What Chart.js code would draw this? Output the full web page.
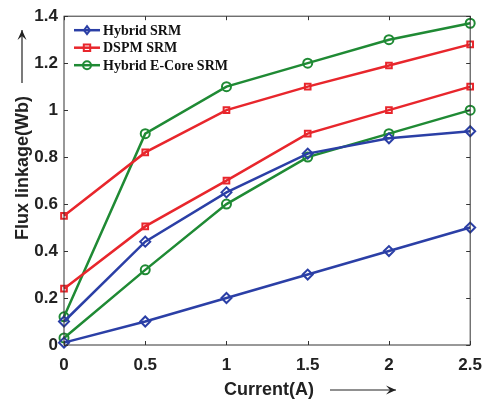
<!DOCTYPE html>
<html>
<head>
<meta charset="utf-8">
<script src="https://cdn.jsdelivr.net/npm/chart.js@4/dist/chart.umd.min.js"></script>
<style>
  html, body { margin: 0; padding: 0; background: #fff; }
  #wrap { width: 492px; height: 400px; position: relative; }
</style>
</head>
<body>
<div id="wrap"><canvas id="fluxChart"></canvas></div>
<script>
// data
const currents = [0, 0.5, 1, 1.5, 2, 2.5];
const hybridSrmA = [0.10, 0.44, 0.65, 0.815, 0.88, 0.91];
const hybridSrmB = [0.01, 0.10, 0.20, 0.30, 0.40, 0.50];
const dspmSrmA = [0.55, 0.82, 1.00, 1.10, 1.19, 1.28];
const dspmSrmB = [0.24, 0.505, 0.70, 0.90, 1.00, 1.10];
const eCoreSrmA = [0.12, 0.90, 1.10, 1.20, 1.30, 1.37];
const eCoreSrmB = [0.03, 0.32, 0.60, 0.80, 0.90, 1.00];
const xTicks = [0, 0.5, 1, 1.5, 2, 2.5];
const yTicks = [0, 0.2, 0.4, 0.6, 0.8, 1, 1.2, 1.4];

const BLUE = '#2b3fa6';
const RED = '#e8262c';
const GREEN = '#1f8a34';
const SANS = '"Liberation Sans", Arial, sans-serif';

const legendItems = [
    { text: 'Hybrid SRM', color: BLUE, style: 'rectRot' },
    { text: 'DSPM SRM', color: RED, style: 'rect' },
    { text: 'Hybrid E-Core SRM', color: GREEN, style: 'circle' }
];

function series(values, color, style, radius) {
    return {
        data: values.map((v, i) => ({ x: currents[i], y: v })),
        borderColor: color,
        backgroundColor: 'transparent',
        borderWidth: 2.5,
        pointStyle: style,
        pointRadius: radius,
        pointBorderWidth: 2,
        pointBorderColor: color,
        pointBackgroundColor: 'transparent',
        tension: 0
    };
}

function drawMarker(ctx, style, x, y, r, color) {
    ctx.save();
    ctx.strokeStyle = color;
    ctx.lineWidth = 2;
    ctx.beginPath();
    if (style === 'circle') {
        ctx.arc(x, y, r, 0, Math.PI * 2);
    } else if (style === 'rect') {
        ctx.rect(x - r * 0.8, y - r * 0.8, r * 1.6, r * 1.6);
    } else {
        ctx.moveTo(x, y - r); ctx.lineTo(x + r * 0.75, y);
        ctx.lineTo(x, y + r); ctx.lineTo(x - r * 0.75, y);
        ctx.closePath();
    }
    ctx.stroke();
    ctx.restore();
}

function arrow(ctx, x1, y1, x2, y2) {
    const ang = Math.atan2(y2 - y1, x2 - x1);
    ctx.beginPath();
    ctx.moveTo(x1, y1); ctx.lineTo(x2, y2);
    ctx.stroke();
    ctx.beginPath();
    ctx.moveTo(x2, y2);
    ctx.lineTo(x2 - 10 * Math.cos(ang) + 4.5 * Math.sin(ang), y2 - 10 * Math.sin(ang) - 4.5 * Math.cos(ang));
    ctx.lineTo(x2 - 6 * Math.cos(ang), y2 - 6 * Math.sin(ang));
    ctx.lineTo(x2 - 10 * Math.cos(ang) - 4.5 * Math.sin(ang), y2 - 10 * Math.sin(ang) + 4.5 * Math.cos(ang));
    ctx.closePath();
    ctx.fill();
}

const decorPlugin = {
    id: 'decor',
    afterDatasetsDraw(chart) {
        const ctx = chart.ctx;
        const a = chart.chartArea;
        const xs = chart.scales.x, ys = chart.scales.y;
        ctx.save();
        // box and inward ticks
        ctx.strokeStyle = '#333';
        ctx.lineWidth = 1;
        ctx.strokeRect(a.left, a.top, a.right - a.left, a.bottom - a.top);
        ctx.beginPath();
        xTicks.forEach(v => {
            const px = Math.round(xs.getPixelForValue(v)) + 0.5;
            ctx.moveTo(px, a.bottom); ctx.lineTo(px, a.bottom - 4);
            ctx.moveTo(px, a.top); ctx.lineTo(px, a.top + 4);
        });
        yTicks.forEach(v => {
            const py = Math.round(ys.getPixelForValue(v)) + 0.5;
            ctx.moveTo(a.left, py); ctx.lineTo(a.left + 4, py);
            ctx.moveTo(a.right, py); ctx.lineTo(a.right - 4, py);
        });
        ctx.stroke();

        // legend
        ctx.font = 'bold 14px "Liberation Serif", "Times New Roman", serif';
        ctx.textBaseline = 'middle';
        ctx.textAlign = 'left';
        legendItems.forEach((it, i) => {
            const y = a.top + 14 + i * 17.5;
            ctx.strokeStyle = it.color;
            ctx.lineWidth = 2.5;
            ctx.beginPath();
            ctx.moveTo(a.left + 10, y); ctx.lineTo(a.left + 36, y);
            ctx.stroke();
            drawMarker(ctx, it.style, a.left + 23, y, 4, it.color);
            ctx.fillStyle = '#111';
            ctx.fillText(it.text, a.left + 39, y + 1);
        });

        // axis titles and arrows
        ctx.fillStyle = '#222';
        ctx.strokeStyle = '#222';
        ctx.lineWidth = 1.2;
        ctx.font = 'bold 18px ' + SANS;
        ctx.textAlign = 'center';
        ctx.fillText('Current(A)', 269, 390);
        arrow(ctx, 330, 390, 396, 390);
        ctx.save();
        ctx.translate(23, 168);
        ctx.rotate(-Math.PI / 2);
        ctx.fillText('Flux linkage(Wb)', 0, 0);
        ctx.restore();
        arrow(ctx, 22, 83, 22, 30);
        ctx.restore();
    }
};

new Chart(document.getElementById('fluxChart'), {
    type: 'line',
    data: {
        datasets: [
            series(hybridSrmA, BLUE, 'rectRot', 5),
            series(hybridSrmB, BLUE, 'rectRot', 5),
            series(dspmSrmA, RED, 'rect', 4),
            series(dspmSrmB, RED, 'rect', 4),
            series(eCoreSrmA, GREEN, 'circle', 4.5),
            series(eCoreSrmB, GREEN, 'circle', 4.5)
        ]
    },
    options: {
        responsive: true,
        maintainAspectRatio: false,
        animation: false,
        clip: false,
        layout: { padding: { top: 13, right: 18, left: 0, bottom: 0 } },
        plugins: {
            legend: { display: false },
            tooltip: { enabled: false }
        },
        scales: {
            x: {
                type: 'linear',
                min: 0,
                max: 2.5,
                afterFit(scale) { scale.height = 55; },
                afterBuildTicks(scale) { scale.ticks = xTicks.map(v => ({ value: v })); },
                grid: { display: false, drawTicks: false },
                border: { display: false },
                ticks: {
                    padding: 10,
                    color: '#222',
                    font: { family: SANS, size: 17, weight: 'bold' },
                    callback: v => String(v)
                }
            },
            y: {
                type: 'linear',
                min: 0,
                max: 1.4,
                afterFit(scale) { scale.width = 64; },
                afterBuildTicks(scale) { scale.ticks = yTicks.map(v => ({ value: v })); },
                grid: { display: false, drawTicks: false },
                border: { display: false },
                ticks: {
                    padding: 6,
                    color: '#222',
                    font: { family: SANS, size: 17, weight: 'bold' },
                    callback: v => String(Math.round(v * 10) / 10)
                }
            }
        }
    },
    plugins: [decorPlugin]
});
</script>
</body>
</html>
